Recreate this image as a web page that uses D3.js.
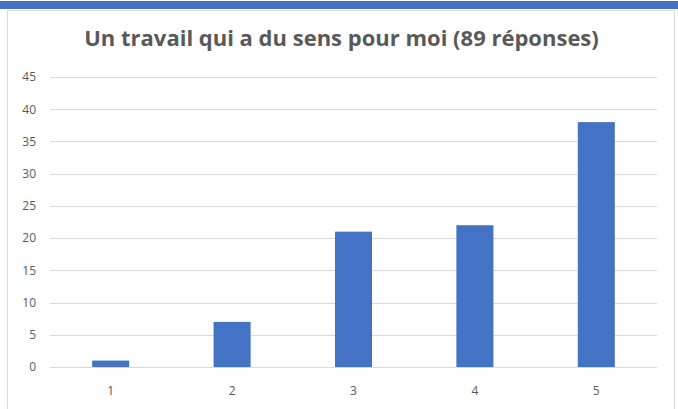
<!DOCTYPE html>
<html>
<head>
<meta charset="utf-8">
<script src="https://cdn.jsdelivr.net/npm/d3@7"></script>
<style>
  body { margin: 0; background: #fff; }
  text { font-family: "Open Sans", "Liberation Sans", sans-serif; }
</style>
</head>
<body>
<div id="chart"></div>
<script>
// Chart data
var categories = ["1", "2", "3", "4", "5"];
var values = [1, 7, 21, 22, 38];
var yTicks = [0, 5, 10, 15, 20, 25, 30, 35, 40, 45];
var title = "Un travail qui a du sens pour moi (89 réponses)";

var width = 678;
var height = 409;

// plot area
var m = { left: 50, right: 21, top: 77, bottom: 42 };

var svg = d3.select("#chart").append("svg")
    .attr("width", width)
    .attr("height", height);

// blue strip on top of the card
svg.append("rect")
    .attr("x", 0).attr("y", 1)
    .attr("width", width).attr("height", 8)
    .attr("fill", "#4472C4");

// card border
svg.append("rect")
    .attr("x", 7.5).attr("y", 10.5)
    .attr("width", 667).attr("height", 400)
    .attr("fill", "#fff")
    .attr("stroke", "#d9d9d9");

var x = d3.scaleBand()
    .domain(categories)
    .range([m.left, width - m.right])
    .paddingInner(0.695)
    .paddingOuter(0.3475);

var y = d3.scaleLinear()
    .domain([0, 45])
    .range([height - m.bottom, m.top]);

// gridlines
svg.append("g")
    .selectAll("line")
    .data(yTicks)
    .enter().append("line")
    .attr("x1", m.left)
    .attr("x2", width - m.right)
    .attr("y1", function(d) { return Math.round(y(d)) + 0.5; })
    .attr("y2", function(d) { return Math.round(y(d)) + 0.5; })
    .attr("stroke", "#d9d9d9")
    .attr("stroke-width", 1);

// y labels
var yAxis = svg.append("g")
    .attr("transform", "translate(" + (m.left - 14) + ",0)")
    .call(d3.axisLeft(y).tickValues(yTicks).tickSize(0).tickPadding(0));
yAxis.select(".domain").remove();
yAxis.selectAll("text")
    .attr("fill", "#595959")
    .style("font-size", "12px");

// x labels
var xAxis = svg.append("g")
    .attr("transform", "translate(0," + (height - m.bottom) + ")")
    .call(d3.axisBottom(x).tickSize(0).tickPadding(19));
xAxis.select(".domain").remove();
xAxis.selectAll("text")
    .attr("fill", "#595959")
    .style("font-size", "12px");

// bars
svg.append("g")
    .selectAll("rect")
    .data(values)
    .enter().append("rect")
    .attr("x", function(d, i) { return x(categories[i]); })
    .attr("y", function(d) { return y(d); })
    .attr("width", x.bandwidth())
    .attr("height", function(d) { return y(0) - y(d); })
    .attr("fill", "#4472C4");

// title
svg.append("text")
    .attr("x", 341.5)
    .attr("y", 46)
    .attr("text-anchor", "middle")
    .attr("fill", "#595959")
    .style("font-size", "22px")
    .style("font-weight", "bold")
    .text(title);
</script>
</body>
</html>
